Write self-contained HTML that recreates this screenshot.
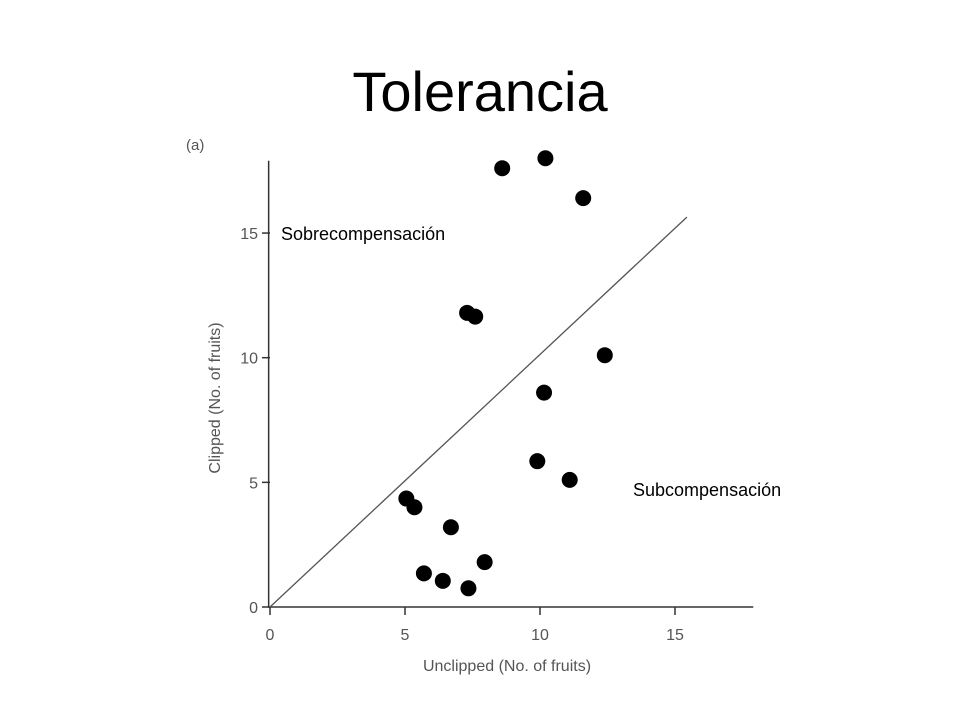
<!DOCTYPE html>
<html><head><meta charset="utf-8"><style>
body{margin:0;background:#fff;width:960px;height:720px;overflow:hidden;font-family:"Liberation Sans",sans-serif}
</style></head><body>
<svg width="960" height="720">
<text x="480" y="111" text-anchor="middle" font-size="56" fill="#000">Tolerancia</text>
<text x="186" y="150" font-size="15" fill="#555">(a)</text>
<g id="axes" stroke="#333" stroke-width="1.5" fill="none"></g>
<g id="ticks"></g>
<line id="diag" stroke="#555" stroke-width="1.3"></line>
<g id="points"></g>
<text x="281" y="240" font-size="18" fill="#000">Sobrecompensación</text>
<text x="633" y="496" font-size="18" fill="#000">Subcompensación</text>
<text x="507" y="671" text-anchor="middle" font-size="16" fill="#555">Unclipped (No. of fruits)</text>
<text transform="translate(220,398) rotate(-90)" text-anchor="middle" font-size="16" fill="#555">Clipped (No. of fruits)</text>
</svg>
<script>
const unclipped=[8.6,10.2,11.6,7.3,7.6,12.4,10.15,9.9,11.1,5.05,5.35,6.7,7.95,5.7,6.4,7.35];
const clipped=[17.6,18.0,16.4,11.8,11.65,10.1,8.6,5.85,5.1,4.35,4.0,3.2,1.8,1.35,1.05,0.75];
const xTicks=[0,5,10,15];
const yTicks=[0,5,10,15];
const diagStart=[0,0];
const diagEnd=[15.44,15.64];
const X=v=>270+v*27.0;
const Y=v=>607-v*24.93;
const ns="http://www.w3.org/2000/svg";
const axes=document.getElementById('axes');
let a=document.createElementNS(ns,'path');
a.setAttribute('d',`M${X(-0.05)} ${Y(17.9)} V${Y(0)} H${X(17.9)}`);


axes.appendChild(a);
const tg=document.getElementById('ticks');
xTicks.forEach(t=>{
 const l=document.createElementNS(ns,'line');
 l.setAttribute('x1',X(t));l.setAttribute('x2',X(t));l.setAttribute('y1',Y(0));l.setAttribute('y2',Y(0)+8);
 l.setAttribute('stroke','#333');l.setAttribute('stroke-width','1.5');
 
 
 tg.appendChild(l);
 const tx=document.createElementNS(ns,'text');
 tx.setAttribute('x',X(t));tx.setAttribute('y',Y(0)+33);tx.setAttribute('text-anchor','middle');
 tx.setAttribute('font-size','16');tx.setAttribute('fill','#555');tx.textContent=t;
 
 
 tg.appendChild(tx);
});
yTicks.forEach(t=>{
 const l=document.createElementNS(ns,'line');
 l.setAttribute('x1',X(0)-8);l.setAttribute('x2',X(0));l.setAttribute('y1',Y(t));l.setAttribute('y2',Y(t));
 l.setAttribute('stroke','#333');l.setAttribute('stroke-width','1.5');
 
 
 tg.appendChild(l);
 const tx=document.createElementNS(ns,'text');
 tx.setAttribute('x',X(0)-12);tx.setAttribute('y',Y(t)+6);tx.setAttribute('text-anchor','end');
 tx.setAttribute('font-size','16');tx.setAttribute('fill','#555');tx.textContent=t;
 
 
 tg.appendChild(tx);
});
const d=document.getElementById('diag');
d.setAttribute('x1',X(diagStart[0]));d.setAttribute('y1',Y(diagStart[1]));
d.setAttribute('x2',X(diagEnd[0]));d.setAttribute('y2',Y(diagEnd[1]));
const pg=document.getElementById('points');
unclipped.forEach((u,i)=>{
 const c=document.createElementNS(ns,'circle');
 c.setAttribute('cx',X(u));c.setAttribute('cy',Y(clipped[i]));c.setAttribute('r','8');c.setAttribute('fill','#000');
 
 
 pg.appendChild(c);
});
</script>
</body></html>
